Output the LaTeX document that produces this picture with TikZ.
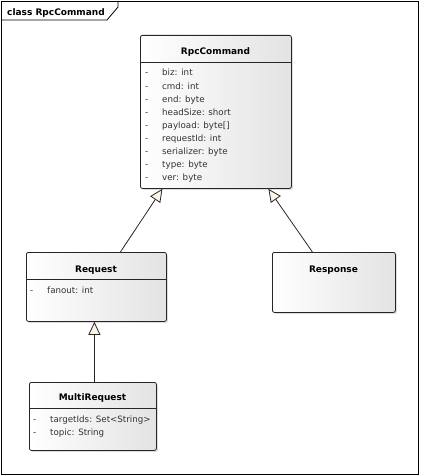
\documentclass[tikz,border=0pt]{standalone}
\usepackage{fontspec}
\setmainfont{DejaVu Sans}
\usetikzlibrary{shadows,arrows.meta}
\definecolor{cream}{RGB}{253,245,230}
\definecolor{attrgray}{RGB}{50,50,50}
\begin{document}
\begin{tikzpicture}[x=1pt,y=-1pt,
  umlbox/.style={draw=black!85, line width=0.8pt, rounded corners=2pt,
    left color=white, right color=black!11,
    drop shadow={shadow xshift=1.5pt, shadow yshift=-1.5pt, opacity=0.3, fill=black!45},
    anchor=north west, inner sep=0pt},
  umltitle/.style={font=\fontsize{9}{10}\selectfont\bfseries, anchor=base, inner sep=0pt},
  attr/.style={font=\fontsize{8.7}{10}\selectfont, text=attrgray, anchor=base west, inner sep=0pt},
  sepline/.style={draw=black!85, line width=0.8pt},
  gen/.style={draw=black!85, line width=0.8pt, -{Triangle[length=13pt,width=12pt,fill=cream]}},
  frameline/.style={draw=black, line width=0.8pt}]
\useasboundingbox (0,0) rectangle (421,476);
% frame
\draw[frameline] (1,1) rectangle (418.5,474);
\draw[frameline] (1,20) -- (107,20) -- (118,7) -- (118,1);
\node[font=\fontsize{9}{10}\selectfont\bfseries, anchor=base west, inner sep=0pt] (frametitle) at (7,15.5) {class RpcCommand};
% RpcCommand
\node[umlbox, minimum width=151pt, minimum height=153pt] (rpc) at (140,35) {};
\draw[sepline] (140,62) -- (291,62);
\node[umltitle] (rpct) at (215.5,54.5) {RpcCommand};
\foreach \t [count=\i from 0] in {biz: int, cmd: int, end: byte, headSize: short, payload: byte[], requestId: int, serializer: byte, type: byte, ver: byte}{
  \node[attr] (rpcd\i) at (145,76+13.06*\i) {-};
  \node[attr] (rpca\i) at (162,76+13.06*\i) {\t};
}
% Request
\node[umlbox, minimum width=140pt, minimum height=69pt] (req) at (26,252) {};
\draw[sepline] (26,279) -- (166,279);
\node[umltitle] (reqt) at (96,272) {Request};
\node[attr] (reqd) at (30,293) {-};
\node[attr] (reqa) at (47,293) {fanout: int};
% Response
\node[umlbox, minimum width=123pt, minimum height=60pt] (resp) at (272,252) {};
\node[umltitle] (respt) at (333.5,272) {Response};
% MultiRequest
\node[umlbox, minimum width=127pt, minimum height=68pt] (multi) at (29,382) {};
\draw[sepline] (29,408) -- (156,408);
\node[umltitle] (multit) at (92.5,400) {MultiRequest};
\node[attr] (multid0) at (33,422) {-};
\node[attr] (multia0) at (50,422) {targetIds: Set<String>};
\node[attr] (multid1) at (33,435) {-};
\node[attr] (multia1) at (50,435) {topic: String};
% generalizations
\draw[gen] ([xshift=24pt]req.north) -- ([xshift=-53.5pt]rpc.south);
\draw[gen] ([xshift=-21.5pt]resp.north) -- ([xshift=52.5pt]rpc.south);
\draw[gen] ([xshift=1.5pt]multi.north) -- ([xshift=-2pt]req.south);
\end{tikzpicture}
\end{document}
